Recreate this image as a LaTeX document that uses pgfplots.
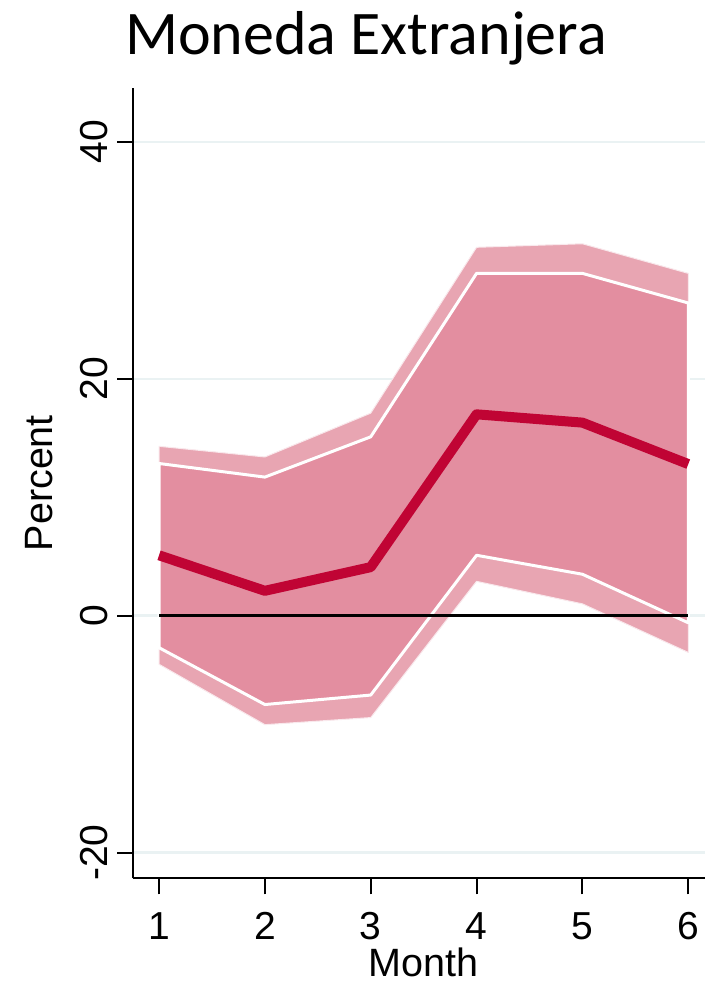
\documentclass[border=0pt]{standalone}
\usepackage{fontspec}
\setmainfont{Liberation Sans}
\newfontfamily\titlefont{Carlito}
\usepackage{pgfplots}
\pgfplotsset{compat=1.18}
\definecolor{outerband}{HTML}{E8A5B2}
\definecolor{innerband}{HTML}{E38EA0}
\definecolor{estline}{HTML}{C00434}
\definecolor{gridc}{HTML}{EAF2F3}
\begin{document}
\begin{tikzpicture}[x=1pt,y=1pt]
\useasboundingbox (-133.3,-105.7) rectangle (571.7,878.3);
\begin{axis}[
  at={(0,0)}, anchor=south west,
  scale only axis, width=571.7pt, height=790.3pt,
  xmin=0.757, xmax=6.158, ymin=-22.17, ymax=44.55,
  axis x line*=bottom, axis y line*=left,
  axis line style={-, line width=2pt, black},
  tick align=outside, major tick length=16pt,
  tick style={black, line width=2pt},
  xtick={1,2,3,4,5,6}, ytick={-20,0,20,40},
  ymajorgrids, grid style={gridc, line width=2.5pt},
  /pgf/number format/assume math mode=true,
  tick label style={font=\fontsize{39}{40}\selectfont},
  yticklabel style={rotate=90, anchor=south, inner sep=0pt},
  xticklabel style={anchor=north, inner sep=0pt},
  xticklabel shift=18pt, yticklabel shift=9pt,
  xlabel={Month}, ylabel={Percent},
  label style={font=\fontsize{39.5}{40}\selectfont, inner sep=0pt},
  xlabel style={at={(axis description cs:0.507,-0.106)}, anchor=center},
  ylabel style={at={(axis description cs:-0.165,0.5)}, anchor=center},
  clip=false,
]
\addplot[fill=outerband, draw=outerband!25!white, line width=1pt, line join=round]
  coordinates {(1,14.3) (2,13.4) (3,17.1) (4,31.1) (5,31.4) (6,28.9)
               (6,-3.1) (5,1.0) (4,2.9) (3,-8.6) (2,-9.2) (1,-4.1)} -- cycle;
\addplot[fill=innerband, draw=white, line width=3pt, line join=round]
  coordinates {(1,12.85) (2,11.7) (3,15.1) (4,28.9) (5,28.9) (6,26.4)
               (6,-0.6) (5,3.5) (4,5.1) (3,-6.7) (2,-7.5) (1,-2.7)} -- cycle;
\addplot[black, line width=3pt] coordinates {(1,0) (6,0)};
\addplot[estline, line width=10pt, line join=round]
  coordinates {(1,5.1) (2,2.1) (3,4.1) (4,17.0) (5,16.3) (6,12.8)};
\end{axis}
\node[font=\titlefont\fontsize{62}{62}\selectfont, anchor=base] at (232.7,823.3) {Moneda Extranjera};
\end{tikzpicture}
\end{document}
